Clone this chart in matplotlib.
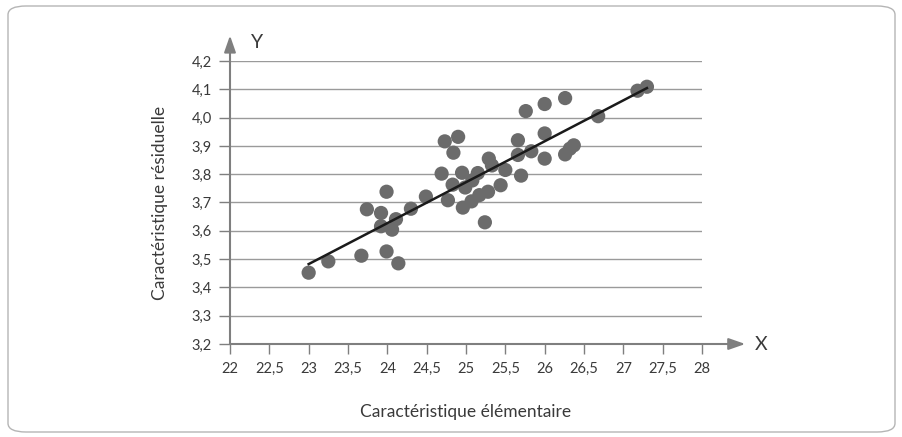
import numpy as np
import matplotlib
matplotlib.use("Agg")
import matplotlib.pyplot as plt
from matplotlib.patches import FancyBboxPatch

x_vals = [23.00, 23.25, 23.67, 23.99, 24.14, 23.74, 23.92, 23.99, 23.92, 24.06,
          24.11, 24.30, 24.49, 24.77, 24.69, 24.73, 24.90, 24.84, 24.95, 24.83,
          24.99, 25.08, 25.15, 24.96, 25.07, 25.17, 25.28, 25.24, 25.29, 25.33,
          25.44, 25.50, 25.66, 25.66, 25.70, 25.83, 26.00, 26.00, 26.26, 26.32,
          26.37, 25.76, 26.00, 26.26, 26.68, 27.18, 27.30]
y_vals = [3.452, 3.492, 3.512, 3.527, 3.485, 3.676, 3.663, 3.738, 3.616, 3.604,
          3.641, 3.678, 3.721, 3.708, 3.802, 3.916, 3.932, 3.876, 3.805, 3.763,
          3.753, 3.778, 3.804, 3.682, 3.704, 3.726, 3.738, 3.630, 3.855, 3.831,
          3.761, 3.815, 3.920, 3.868, 3.795, 3.881, 3.944, 3.855, 3.870, 3.890,
          3.902, 4.023, 4.048, 4.069, 4.005, 4.095, 4.109]

x_ticks = [22, 22.5, 23, 23.5, 24, 24.5, 25, 25.5, 26, 26.5, 27, 27.5, 28]
y_ticks = [3.2, 3.3, 3.4, 3.5, 3.6, 3.7, 3.8, 3.9, 4.0, 4.1, 4.2]

x_labels = ["22", "22,5", "23", "23,5", "24", "24,5", "25", "25,5", "26", "26,5", "27", "27,5", "28"]
y_labels = ["3,2", "3,3", "3,4", "3,5", "3,6", "3,7", "3,8", "3,9", "4,0", "4,1", "4,2"]

xlabel = "Caractéristique élémentaire"
ylabel = "Caractéristique résiduelle"

plt.rcParams['font.family'] = ['Lato', 'DejaVu Sans']

W, H = 903, 437
fig = plt.figure(figsize=(W / 100, H / 100), dpi=100)

# outer rounded frame
frame = FancyBboxPatch((8 / W, 5 / H), (895 - 8) / W, (431 - 5) / H,
                       boxstyle="round,pad=0,rounding_size=0.02",
                       transform=fig.transFigure, fill=False,
                       edgecolor="#b5b5b5", linewidth=1.0)
fig.patches.append(frame)

left, right = 230 / W, 702 / W
bottom, top = 1 - 344 / H, 1 - 61 / H
ax = fig.add_axes([left, bottom, right - left, top - bottom])
ax.set_xlim(22, 28)
ax.set_ylim(3.2, 4.2)

axis_col = "#7f7f7f"
grid_col = "#9a9a9a"
text_col = "#3a3a3a"

for yv in y_ticks[1:]:
    ax.axhline(yv, color=grid_col, linewidth=1.0, zorder=1)

for s in ax.spines.values():
    s.set_visible(False)

ax.set_xticks(x_ticks)
ax.set_xticklabels(x_labels)
ax.set_yticks(y_ticks)
ax.set_yticklabels(y_labels)
ax.tick_params(axis='x', length=7, width=1, color=axis_col, labelcolor=text_col,
               labelsize=10.5, pad=6, direction='out')
ax.tick_params(axis='y', length=8, width=1, color=axis_col, labelcolor=text_col,
               labelsize=10.5, pad=5, direction='out')

# axes with arrows
ax.annotate("", xy=(28.55, 3.2), xytext=(22, 3.2), xycoords='data',
            arrowprops=dict(arrowstyle="-|>,head_length=1.0,head_width=0.35",
                            color=axis_col, lw=1.5, shrinkA=0, shrinkB=0),
            annotation_clip=False, zorder=3)
ax.annotate("", xy=(22, 4.29), xytext=(22, 3.2), xycoords='data',
            arrowprops=dict(arrowstyle="-|>,head_length=1.0,head_width=0.35",
                            color=axis_col, lw=1.5, shrinkA=0, shrinkB=0),
            annotation_clip=False, zorder=3)
ax.text(28.75, 3.2, "X", ha='center', va='center', fontsize=14,
        color=text_col, clip_on=False)
ax.text(22.35, 4.265, "Y", ha='center', va='center', fontsize=14,
        color=text_col, clip_on=False)

ax.scatter(x_vals, y_vals, s=105, color="#6b6b6b", edgecolors='none',
           zorder=4, clip_on=False)

xa = np.array(x_vals)
ya = np.array(y_vals)
k, b = np.polyfit(xa, ya, 1)
xl = np.array([xa.min(), xa.max()])
ax.plot(xl, k * xl + b, color="#1a1a1a", linewidth=1.8, zorder=5)

ax.set_xlabel(xlabel, fontsize=12.5, color=text_col, labelpad=20)
ax.set_ylabel(ylabel, fontsize=12.5, color=text_col, labelpad=17)

fig.savefig("out.png", dpi=100)
